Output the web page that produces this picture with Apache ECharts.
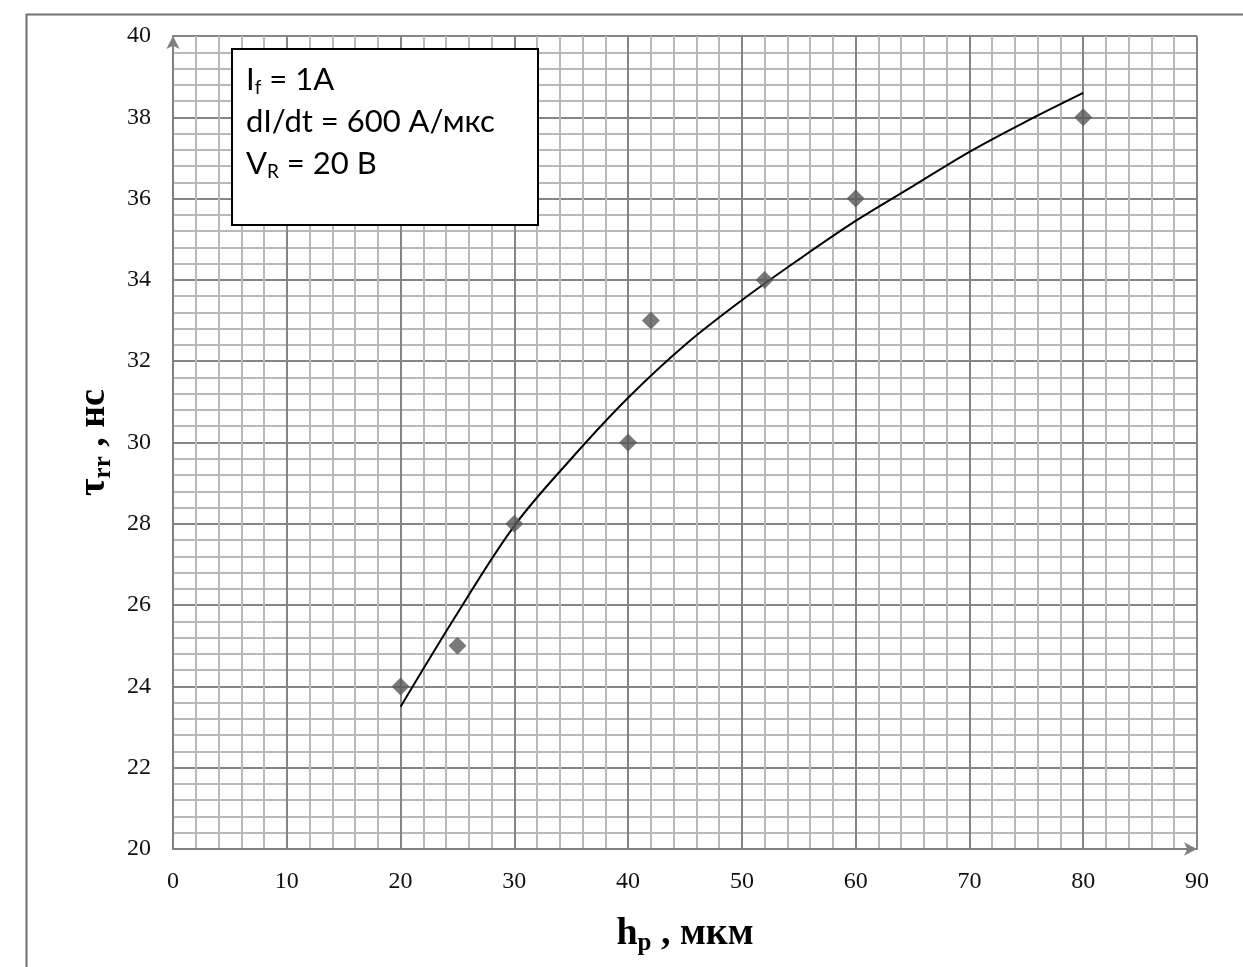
<!DOCTYPE html>
<html>
<head>
<meta charset="utf-8">
<script src="https://cdn.jsdelivr.net/npm/echarts@6/dist/echarts.min.js"></script>
<style>
  html, body { margin: 0; padding: 0; background: #fff; }
  #chart { width: 1243px; height: 967px; }
</style>
</head>
<body>
<div id="chart"></div>
<script>
// measured points (h_p, мкм -> τ_rr, нс)
var hp = [20, 25, 30, 40, 42, 52, 60, 80]
var trr = [24, 25, 28, 30, 33, 34, 36, 38]

// trend line
var trendX = [20, 25, 30, 35, 40, 45, 50, 55, 60, 65, 70, 75, 80]
var trendY = [23.5, 25.8, 27.95, 29.6, 31.1, 32.4, 33.5, 34.5, 35.45, 36.3, 37.15, 37.9, 38.6]

var xTicks = [0, 10, 20, 30, 40, 50, 60, 70, 80, 90]
var yTicks = [20, 22, 24, 26, 28, 30, 32, 34, 36, 38, 40]

var serif = '"Liberation Serif", "DejaVu Serif", serif'
var sans = 'Lato, "Open Sans", "Noto Sans", sans-serif'

var nameRich = {
  b: { fontFamily: serif, fontWeight: 'bold', fontSize: 38, color: '#000' },
  s: { fontFamily: serif, fontWeight: 'bold', fontSize: 25, color: '#000', padding: [18, 0, 0, 0] }
}

var chart = echarts.init(document.getElementById('chart'))

chart.setOption({
  animation: false,
  backgroundColor: '#fff',
  grid: { left: 173, right: 46, top: 36, bottom: 118, outerBoundsMode: 'none', containLabel: false },
  xAxis: {
    type: 'value',
    min: xTicks[0],
    max: xTicks[xTicks.length - 1],
    interval: 10,
    name: '{b|h}{s|p}{b| , мкм}',
    nameLocation: 'middle',
    nameGap: 64,
    nameTextStyle: { rich: nameRich },
    axisLine: { show: true, symbol: ['none', 'arrow'], symbolSize: [10, 13], lineStyle: { color: '#808080', width: 2 } },
    axisTick: { show: false },
    axisLabel: { margin: 21, fontFamily: serif, fontSize: 24, color: '#111' },
    splitLine: { show: true, lineStyle: { color: '#858585', width: 2 } },
    minorTick: { show: false, splitNumber: 5 },
    minorSplitLine: { show: true, lineStyle: { color: '#b9b9b9', width: 2 } }
  },
  yAxis: {
    type: 'value',
    min: yTicks[0],
    max: yTicks[yTicks.length - 1],
    interval: 2,
    name: '{b|τ}{s|rr}{b| , нс}',
    nameLocation: 'middle',
    nameRotate: 90,
    nameGap: 54,
    nameTextStyle: { rich: nameRich },
    axisLine: { show: true, symbol: ['none', 'arrow'], symbolSize: [10, 13], lineStyle: { color: '#808080', width: 2 } },
    axisTick: { show: false },
    axisLabel: { margin: 22, fontFamily: serif, fontSize: 24, color: '#111' },
    splitLine: { show: true, lineStyle: { color: '#858585', width: 2 } },
    minorTick: { show: false, splitNumber: 5 },
    minorSplitLine: { show: true, lineStyle: { color: '#b9b9b9', width: 2 } }
  },
  series: [
    {
      name: 'trend',
      type: 'line',
      smooth: 0.35,
      showSymbol: false,
      data: trendX.map(function (x, i) { return [x, trendY[i]] }),
      lineStyle: { color: '#000', width: 2 },
      z: 3
    },
    {
      name: 'data',
      type: 'scatter',
      symbol: 'diamond',
      symbolSize: 18,
      data: hp.map(function (x, i) { return [x, trr[i]] }),
      itemStyle: { color: '#585858' },
      z: 4
    }
  ],
  graphic: [
    {
      type: 'rect',
      left: 24, top: 12,
      shape: { width: 1240, height: 970 },
      style: { fill: 'none', stroke: '#707070', lineWidth: 2 },
      silent: true,
      z: 0
    },
    {
      type: 'rect',
      left: 231, top: 48,
      shape: { width: 306, height: 176 },
      style: { fill: '#fff', stroke: '#000', lineWidth: 2 },
      z: 10
    },
    {
      type: 'text',
      left: 246, top: 62,
      z: 11,
      style: {
        text: '{t|I}{s|f}{t| = 1A}\n{t|dI/dt = 600 А/мкс}\n{t|V}{s|R}{t| = 20 В}',
        rich: {
          t: { fontFamily: sans, fontSize: 31, color: '#111', lineHeight: 42 },
          s: { fontFamily: sans, fontSize: 19, color: '#111', lineHeight: 42, padding: [16, 0, 0, 0] }
        }
      }
    }
  ]
})
</script>
</body>
</html>
